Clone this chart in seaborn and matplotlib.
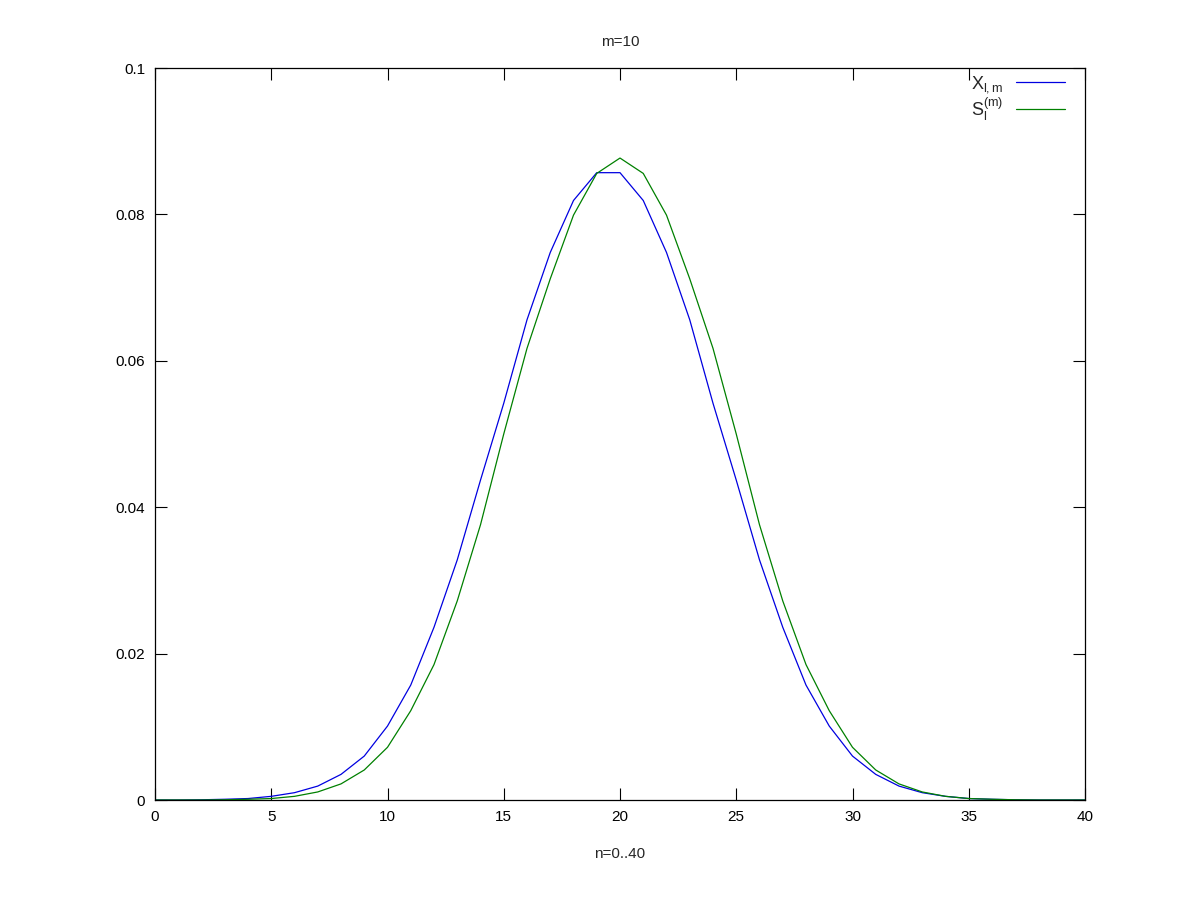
import numpy as np
import pandas as pd
import matplotlib
matplotlib.use("Agg")
import matplotlib.pyplot as plt
import seaborn as sns

# valores (n = 0..40)
n_values = list(range(41))

x_lm = [0.0, 0.0, 0.00003, 0.0001, 0.0002, 0.0005, 0.0010, 0.0019, 0.0035, 0.0060,
        0.0101, 0.0157, 0.0236, 0.0328, 0.0437, 0.0542, 0.0656, 0.0748, 0.0819, 0.0857,
        0.0857, 0.0819, 0.0748, 0.0656, 0.0542, 0.0437, 0.0328, 0.0236, 0.0157, 0.0101,
        0.0060, 0.0035, 0.0019, 0.0010, 0.0005, 0.0002, 0.0001, 0.00003, 0.0, 0.0, 0.0]

s_lm = [0.0, 0.0, 0.0, 0.00003, 0.0001, 0.0002, 0.0005, 0.0011, 0.0022, 0.0041,
        0.0072, 0.0122, 0.0185, 0.0272, 0.0376, 0.0500, 0.0617, 0.0712, 0.0799, 0.0856,
        0.0877, 0.0856, 0.0799, 0.0712, 0.0617, 0.0500, 0.0376, 0.0272, 0.0185, 0.0122,
        0.0072, 0.0041, 0.0022, 0.0011, 0.0005, 0.0002, 0.0001, 0.00003, 0.0, 0.0, 0.0]

series_labels = [r"$\mathrm{X_{l,m}}$", r"$\mathrm{S_l^{(m)}}$"]
series_colors = ["#0000e0", "#008000"]

x_ticks = [0, 5, 10, 15, 20, 25, 30, 35, 40]
y_ticks = [0, 0.02, 0.04, 0.06, 0.08, 0.1]
y_tick_labels = ["0", "0.02", "0.04", "0.06", "0.08", "0.1"]

df = pd.DataFrame({
    "n": n_values * 2,
    "valor": x_lm + s_lm,
    "serie": [series_labels[0]] * len(n_values) + [series_labels[1]] * len(n_values),
})

sns.set_style("ticks")
plt.rcParams["font.family"] = ["Liberation Sans", "DejaVu Sans"]
plt.rcParams["mathtext.fontset"] = "custom"
plt.rcParams["mathtext.rm"] = "Liberation Sans"
plt.rcParams["mathtext.it"] = "Liberation Sans"

fig = plt.figure(figsize=(12, 9), dpi=100)
ax = fig.add_axes([155 / 1200, 100 / 900, 930 / 1200, 732 / 900])

sns.lineplot(data=df, x="n", y="valor", hue="serie",
             palette=dict(zip(series_labels, series_colors)),
             linewidth=0.9, ax=ax)

ax.set_xlim(0, 40)
ax.set_ylim(0, 0.1)
ax.set_xticks(x_ticks)
ax.set_yticks(y_ticks)
ax.set_yticklabels(y_tick_labels)
ax.tick_params(direction="in", length=8.5, width=0.8, top=True, right=True,
               labelsize=11, pad=7, colors="black")
for sp in ax.spines.values():
    sp.set_linewidth(0.9)
    sp.set_color("black")

ax.set_xlabel("n=0..40", fontsize=11, labelpad=17)
ax.set_ylabel("")
ax.set_title("m=10", fontsize=11, pad=16)

leg = ax.legend(loc="upper right", bbox_to_anchor=(0.986, 1.002),
                frameon=False, markerfirst=False,
                fontsize=13, handlelength=2.7, handletextpad=0.7,
                labelspacing=0.05, borderaxespad=0.0)
for line in leg.get_lines():
    line.set_linewidth(0.9)

fig.savefig("out.png", dpi=100)
